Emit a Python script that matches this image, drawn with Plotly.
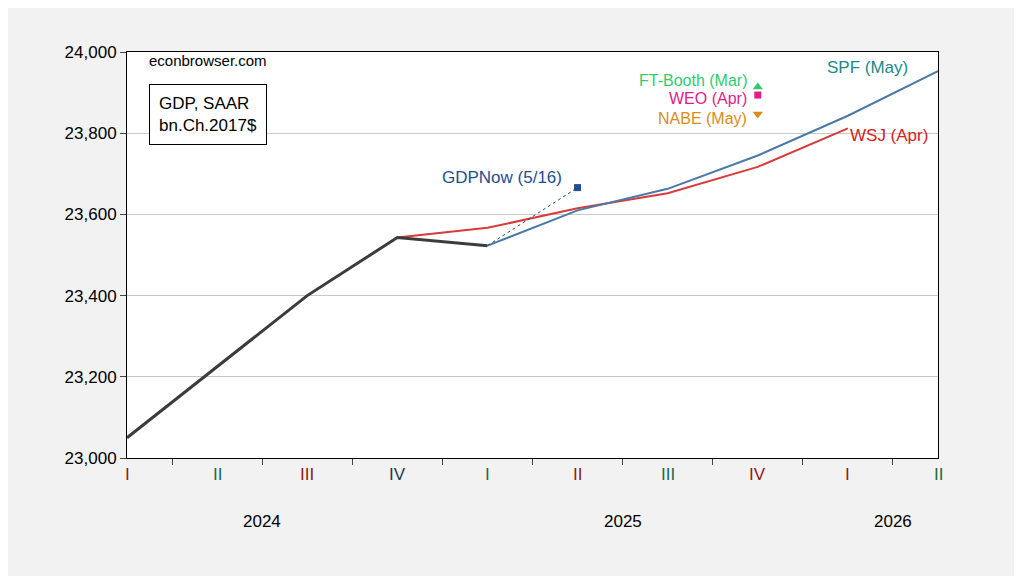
import plotly.graph_objects as go

quarters = ["I", "II", "III", "IV", "I", "II", "III", "IV", "I", "II"]
q_colors = ["#8b1a1a", "#1a6b4a", "#8b1a1a", "#1a3a5a", "#1a6b4a", "#8b1a1a", "#1a6b4a", "#8b1a1a", "#8b1a1a", "#1a6b4a"]
years = ["2024", "2025", "2026"]
year_pos = [1.5, 5.5, 8.5]

gdp_x = [0, 1, 2, 3, 4]
gdp = [23050, 23225, 23400, 23543, 23523]
wsj_x = [3, 4, 5, 6, 7, 8]
wsj = [23543, 23567, 23615, 23652, 23717, 23812]
spf_x = [4, 5, 6, 7, 8, 9]
spf = [23523, 23610, 23663, 23745, 23843, 23953]
now_x = [4, 5]
now = [23523, 23666]
ft_booth = 23914
weo = 23894
nabe = 23847

fig = go.Figure()
fig.add_trace(go.Scatter(x=wsj_x, y=wsj, mode="lines", line=dict(color="#d93a3a", width=2)))
fig.add_trace(go.Scatter(x=spf_x, y=spf, mode="lines", line=dict(color="#4a78a8", width=2)))
fig.add_trace(go.Scatter(x=gdp_x, y=gdp, mode="lines", line=dict(color="#3c3c3c", width=3)))
fig.add_trace(go.Scatter(x=now_x, y=now, mode="lines", line=dict(color="#1f4e8c", width=1, dash="dot")))
fig.add_trace(go.Scatter(x=[5], y=[now[1]], mode="markers", marker=dict(symbol="square", size=7, color="#1f4e8c")))
fig.add_trace(go.Scatter(x=[7], y=[ft_booth], mode="markers", marker=dict(symbol="triangle-up", size=9, color="#2ecc71")))
fig.add_trace(go.Scatter(x=[7], y=[weo], mode="markers", marker=dict(symbol="square", size=7, color="#e6198a")))
fig.add_trace(go.Scatter(x=[7], y=[nabe], mode="markers", marker=dict(symbol="triangle-down", size=9, color="#d98c1a")))

ann = []
for i, (q, c) in enumerate(zip(quarters, q_colors)):
    ann.append(dict(x=i, y=-0.07, xref="x", yref="paper", text=q, showarrow=False,
                    font=dict(size=17, color=c)))
for y, p in zip(years, year_pos):
    ann.append(dict(x=p, y=-0.185, xref="x", yref="paper", text=y, showarrow=False,
                    font=dict(size=17, color="black")))
ann += [
    dict(x=0.22, y=23978, text="econbrowser.com", showarrow=False, xanchor="left", font=dict(size=15)),
    dict(x=0.24, y=23845, text="GDP, SAAR<br>bn.Ch.2017$", showarrow=False, xanchor="left", align="left",
         bordercolor="black", borderwidth=1, borderpad=9, bgcolor="white", font=dict(size=17)),
    dict(x=4.85, y=23692, text="GDPNow (5/16)", showarrow=False, xanchor="right", font=dict(size=17, color="#1f4e8c")),
    dict(x=6.9, y=23930, text="FT-Booth (Mar)", showarrow=False, xanchor="right", font=dict(size=16, color="#2ecc71")),
    dict(x=6.9, y=23886, text="WEO (Apr)", showarrow=False, xanchor="right", font=dict(size=16, color="#e6198a")),
    dict(x=6.9, y=23836, text="NABE (May)", showarrow=False, xanchor="right", font=dict(size=16, color="#d98c1a")),
    dict(x=7.75, y=23962, text="SPF (May)", showarrow=False, xanchor="left", font=dict(size=17, color="#1a8a8a")),
    dict(x=8.0, y=23795, text="WSJ (Apr)", showarrow=False, xanchor="left", font=dict(size=17, color="#d92020")),
]

fig.update_layout(
    width=1022, height=576, showlegend=False,
    paper_bgcolor="#f2f2f2", plot_bgcolor="white",
    margin=dict(l=119, r=92, t=44, b=126),
    font=dict(family="Liberation Sans, Arial", color="black"),
    annotations=ann,
    xaxis=dict(range=[0, 9], showgrid=False, zeroline=False, showticklabels=False,
               tickvals=[0.5 + i for i in range(9)], ticks="outside", ticklen=6,
               showline=True, linecolor="black", mirror=True),
    yaxis=dict(range=[23000, 24000], dtick=200, tickformat=",", showgrid=True, gridcolor="#c8c8c8",
               zeroline=False, ticks="outside", ticklen=6, tickfont=dict(size=17),
               showline=True, linecolor="black", mirror=True),
)
fig.write_html("out.html")
